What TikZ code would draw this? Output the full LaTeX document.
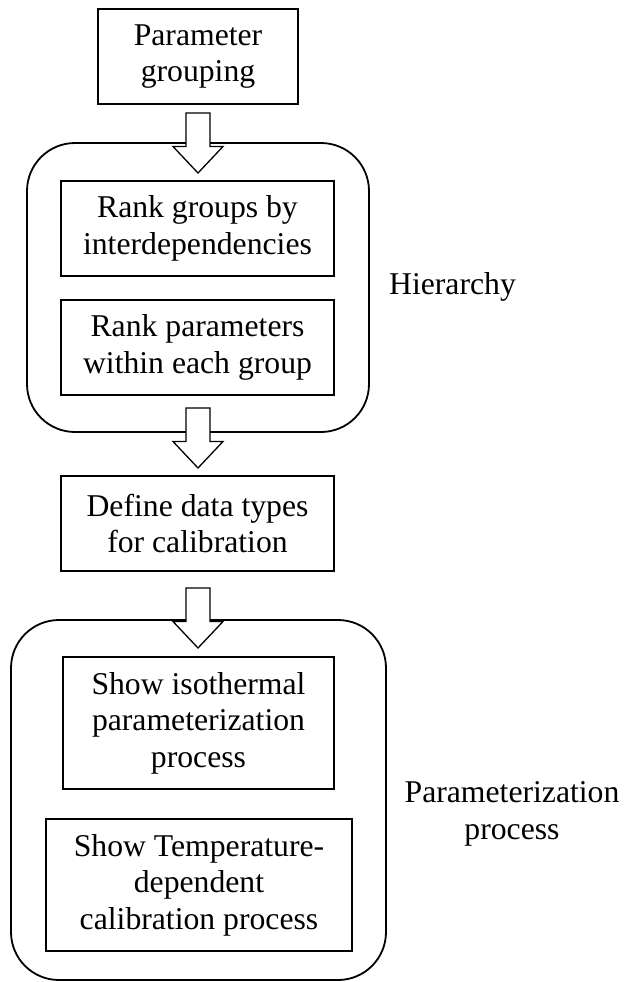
\documentclass[tikz,border=0pt]{standalone}
\usepackage{fontspec}
\setmainfont{Liberation Serif}
\begin{document}
\begin{tikzpicture}[x=1pt,y=-1pt,
  every node/.style={font=\fontsize{31.7}{36.5}\selectfont, align=center, inner sep=0pt},
  stepbox/.style={draw, line width=1.3pt, minimum width=#1, minimum height=95},
  tallbox/.style={draw, line width=1.3pt, minimum width=#1, minimum height=132},
  groupframe/.style={draw, line width=1.8pt, rounded corners=48pt},
  blockarrow/.style={draw, fill=white, line width=1.3pt, line join=miter}]
  \useasboundingbox (0,0) rectangle (624,982);

  % group frames
  \draw[groupframe] (27,143) rectangle (369,432);
  \draw[groupframe] (11,620) rectangle (386,980);

  % process steps
  \node[stepbox=200] (group) at (198,56.5) {Parameter\\grouping};
  \node[stepbox=273] (rankg) at (197.5,228.5) {Rank groups by\\interdependencies};
  \node[stepbox=273] (rankp) at (197.5,347.5) {Rank parameters\\within each group};
  \node[stepbox=273] (dtype) at (197.5,523.5) {Define data types\\for calibration};
  \node[tallbox=271] (iso) at (198.5,723) {Show isothermal\\parameterization\\process};
  \node[tallbox=306] (temp) at (199,885) {Show Temperature-\\dependent\\calibration process};

  % group labels
  \node[anchor=base] (hier) at (452.5,294) {Hierarchy};
  \node (param) at (512,814) {Parameterization\\process};

  % hollow block arrows: #1 shaft top, #2 tip
  \newcommand\dropArrow[2]{%
    \draw[blockarrow] (186,#1) -- (210,#1) -- (210,{#2-26.5}) -- (223,{#2-26.5})
      -- (198,#2) -- (173,{#2-26.5}) -- (186,{#2-26.5}) -- cycle;}
  \dropArrow{113}{173}
  \dropArrow{408}{468}
  \dropArrow{588}{648}
\end{tikzpicture}
\end{document}
